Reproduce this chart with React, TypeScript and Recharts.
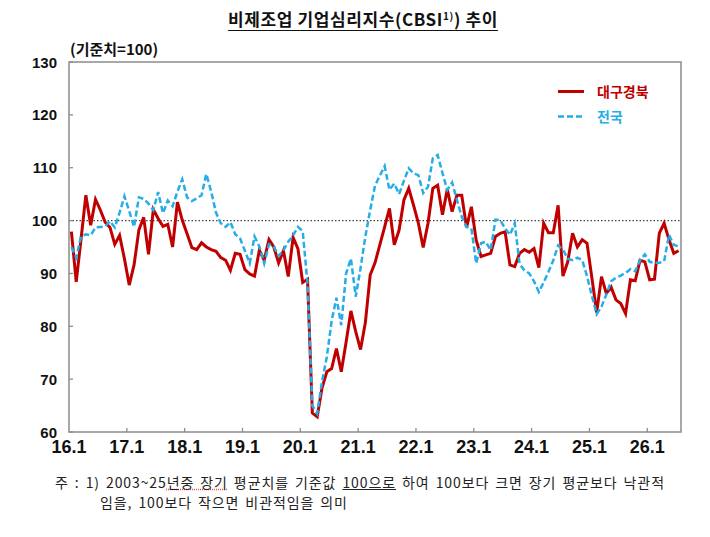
import { LineChart, Line, XAxis, YAxis, ReferenceLine, ReferenceArea } from "recharts";

// 비제조업 CBSI, 월별 (16.1 ~ 26.7)
const tickLabels = ["16.1", "17.1", "18.1", "19.1", "20.1", "21.1", "22.1", "23.1", "24.1", "25.1", "26.1"];
const yTicks = [60, 70, 80, 90, 100, 110, 120, 130];

const daeguGyeongbuk = [
  97.9, 88.4, 96.5, 104.8, 99.1, 104.0, 102.0, 99.7, 98.7, 95.5, 97.2, 92.8,
  87.8, 91.6, 98.2, 100.6, 93.6, 102.1, 100.4, 98.9, 99.3, 95.0, 103.5, 100.1,
  97.5, 94.9, 94.5, 95.8, 95.0, 94.5, 94.2, 93.0, 92.5, 90.6, 93.8, 93.6,
  90.7, 89.9, 89.5, 94.4, 92.5, 96.4, 95.0, 92.0, 94.3, 89.4, 96.8, 94.7,
  88.3, 88.9, 63.6, 62.9, 68.3, 71.4, 72.0, 75.8, 71.4, 77.0, 82.9, 79.0,
  75.6, 80.7, 89.7, 92.0, 95.4, 98.8, 102.3, 95.4, 98.2, 103.9, 106.1, 102.9,
  99.5, 94.9, 99.5, 106.1, 106.7, 101.1, 105.9, 101.7, 104.8, 104.8, 98.7, 102.6,
  96.3, 93.2, 93.5, 93.8, 97.0, 97.6, 97.9, 91.6, 91.3, 93.8, 94.5, 94.0,
  94.7, 91.1, 99.5, 97.7, 97.7, 102.9, 89.5, 92.2, 97.6, 95.0, 96.4, 95.7,
  89.2, 82.6, 89.4, 86.2, 87.4, 85.0, 84.3, 82.4, 88.8, 88.6, 92.5, 92.2,
  88.8, 88.9, 97.6, 99.5, 96.4, 93.8, 94.3,
];

const nationwide = [
  95.0, 93.0, 97.0, 97.4, 97.2, 98.7, 98.8, 98.9, 99.9, 98.7, 101.5, 104.6,
  101.8, 98.8, 104.4, 104.1, 103.2, 102.0, 105.4, 101.4, 103.8, 102.7, 105.5, 107.8,
  104.4, 103.7, 104.2, 104.8, 108.8, 105.5, 101.5, 99.5, 98.8, 99.7, 97.4, 96.6,
  94.3, 91.9, 97.0, 95.1, 91.9, 95.5, 95.1, 93.3, 94.4, 96.0, 97.2, 98.8,
  98.0, 88.0, 65.0, 63.5, 69.5, 74.2, 81.0, 85.4, 80.2, 90.0, 92.8, 85.6,
  91.0, 97.0, 102.0, 106.6, 108.5, 110.3, 105.8, 107.0, 105.0, 107.5, 109.9, 108.9,
  108.6, 105.2, 106.4, 111.8, 112.4, 109.0, 105.8, 107.2, 103.9, 100.7, 98.8, 98.5,
  91.9, 95.7, 96.0, 94.4, 100.2, 100.1, 98.5, 97.3, 99.5, 91.8, 90.6, 90.0,
  88.5, 86.5, 88.3, 90.3, 92.5, 95.3, 94.5, 92.8, 92.5, 93.0, 92.5, 89.5,
  85.8, 82.3, 83.7, 86.0, 88.5, 89.2, 89.6, 90.1, 90.8, 90.4, 92.5, 93.6,
  92.2, 92.0, 92.0, 92.3, 97.3, 95.4, 95.1,
];

const RED = "#C00000";
const BLUE = "#24ADE6";
const AXIS = "#8c8c8c";
const LATIN = "'Liberation Sans', Arial, sans-serif";
const KOR = "'Noto Sans CJK KR', 'Noto Sans', sans-serif";

const PLOT_LEFT = 69;
const PLOT_BOTTOM = 432;

// each month sits in the middle of its band; year ticks fall on band edges
const chartData = daeguGyeongbuk.map((v, i) => ({
  pos: i + 0.5,
  daegu: v,
  nation: nationwide[i],
}));
const xTicks = tickLabels.map((_, i) => i * 12);

function XTick(props: any) {
  const { x, payload } = props;
  const label = tickLabels[Math.round(payload.value / 12)];
  return (
    <g>
      {payload.value > 0 && (
        <line x1={x} x2={x} y1={PLOT_BOTTOM} y2={PLOT_BOTTOM - 4} stroke={AXIS} strokeWidth={1.3} />
      )}
      <text x={x} y={453} textAnchor="middle" fontSize={18} fontWeight="bold" fill="#111" fontFamily={LATIN}>
        {label}
      </text>
    </g>
  );
}

function YTick(props: any) {
  const { y, payload } = props;
  return (
    <g>
      <line x1={PLOT_LEFT} x2={PLOT_LEFT + 4} y1={y} y2={y} stroke={AXIS} strokeWidth={1.3} />
      <text x={57} y={y + 5.5} textAnchor="end" fontSize={15} fontWeight="bold" fill="#111" fontFamily={LATIN}>
        {payload.value}
      </text>
    </g>
  );
}

const noteStyle = {
  position: "absolute" as const,
  fontSize: 14,
  color: "#222",
  lineHeight: "20px",
  whiteSpace: "nowrap" as const,
  letterSpacing: 0.9,
  wordSpacing: 2,
};

export default function App() {
  return (
    <div style={{ position: "absolute", left: 0, top: 0, width: 710, height: 537, background: "#fff", fontFamily: KOR }}>
      <div
        style={{
          position: "absolute",
          left: 0,
          width: 726,
          top: 8,
          textAlign: "center",
          fontSize: 17,
          fontWeight: "bold",
          color: "#111",
          lineHeight: "22px",
          letterSpacing: 0.6,
        }}
      >
        <span style={{ textDecoration: "underline", textUnderlineOffset: 4 }}>
          비제조업 기업심리지수(CBSI<sup style={{ fontSize: 10, verticalAlign: "6px", lineHeight: 0 }}>1)</sup>) 추이
        </span>
      </div>
      <div style={{ position: "absolute", left: 70, top: 38, fontSize: 15, fontWeight: "bold", color: "#111" }}>
        (기준치=100)
      </div>

      <LineChart
        width={710}
        height={537}
        data={chartData}
        margin={{ top: 62, right: 29, bottom: 75, left: 9 }}
      >
        <XAxis
          dataKey="pos"
          type="number"
          domain={[0, 127]}
          ticks={xTicks}
          interval={0}
          axisLine={false}
          tickLine={false}
          tick={<XTick />}
          height={30}
        />
        <YAxis
          type="number"
          domain={[60, 130]}
          ticks={yTicks}
          interval={0}
          axisLine={false}
          tickLine={false}
          tick={<YTick />}
          width={60}
        />
        <ReferenceArea x1={0} x2={127} y1={60} y2={130} fill="none" stroke={AXIS} strokeWidth={1.5} />
        <ReferenceLine y={100} stroke="#444" strokeWidth={1.2} strokeDasharray="1.5 2" />
        <Line
          type="linear"
          dataKey="daegu"
          stroke={RED}
          strokeWidth={3}
          dot={false}
          isAnimationActive={false}
        />
        <Line
          type="linear"
          dataKey="nation"
          stroke={BLUE}
          strokeWidth={2.5}
          strokeDasharray="6 3"
          dot={false}
          isAnimationActive={false}
        />
      </LineChart>

      {/* legend */}
      <svg style={{ position: "absolute", left: 555, top: 80 }} width={32} height={45}>
        <line x1={3} x2={29} y1={11.5} y2={11.5} stroke={RED} strokeWidth={3} />
        <line x1={3} x2={29} y1={36.5} y2={36.5} stroke={BLUE} strokeWidth={2.5} strokeDasharray="6 3" />
      </svg>
      <div style={{ position: "absolute", left: 597, top: 81, fontSize: 14, fontWeight: "bold", color: RED, lineHeight: "20px" }}>
        대구경북
      </div>
      <div style={{ position: "absolute", left: 597, top: 106, fontSize: 14, fontWeight: "bold", color: BLUE, lineHeight: "20px" }}>
        전국
      </div>

      {/* footnote */}
      <div style={{ ...noteStyle, left: 55, top: 472 }}>
        주 : 1) 2003~25
        <span style={{ textDecoration: "underline dotted #e05050" }}>년중 장기</span> 평균치를 기준값{" "}
        <span style={{ textDecoration: "underline" }}>100으로</span> 하여 100보다 크면 장기 평균보다 낙관적
      </div>
      <div style={{ ...noteStyle, left: 100, top: 492 }}>
        임을, 100보다 작으면 비관적임을 의미
      </div>
    </div>
  );
}
